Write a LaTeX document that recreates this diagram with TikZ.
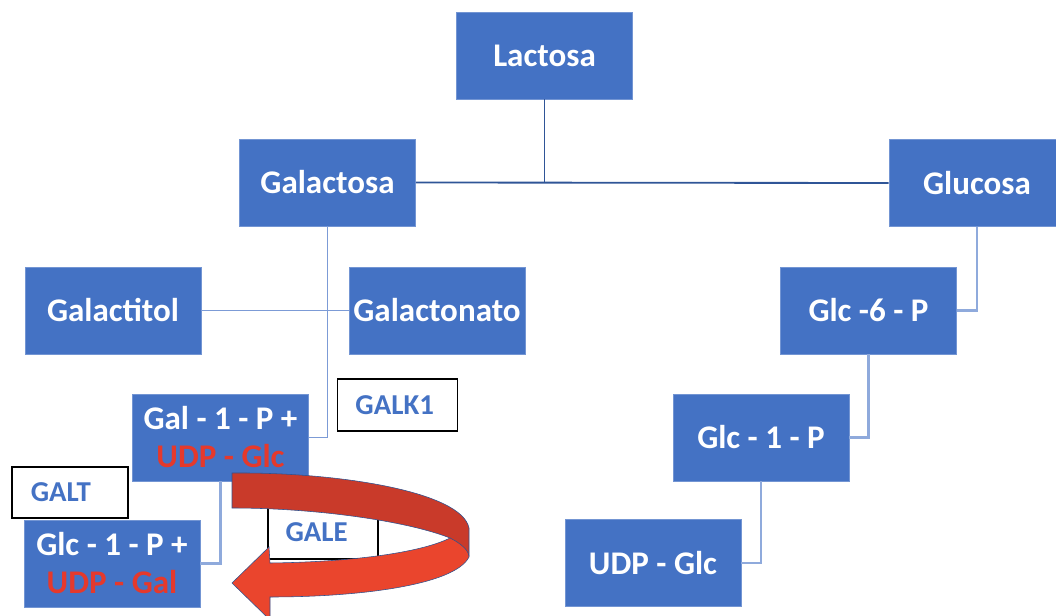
\documentclass[tikz,border=0pt]{standalone}
\usepackage{fontspec}
\setmainfont{Carlito}
\usetikzlibrary{positioning}
\definecolor{boxblue}{HTML}{4472C4}
\definecolor{darkline}{HTML}{2F5597}
\definecolor{midline}{HTML}{7C9BD6}
\definecolor{lightline}{HTML}{8FAADC}
\definecolor{udpred}{HTML}{E5392C}
\definecolor{arrowdark}{HTML}{C93A2A}
\definecolor{arrowlight}{HTML}{EA452D}
\definecolor{arrowedge}{HTML}{2F528F}

\begin{document}
\begin{tikzpicture}[x=0.025cm,y=-0.025cm,
  sugar/.style={fill=boxblue,draw=boxblue!75!white,line width=0.4pt,text=white,
    minimum width=4.4cm,minimum height=2.175cm,inner sep=0pt,align=center,
    font=\fontsize{23.5}{27}\selectfont\bfseries},
  enzyme/.style={fill=white,draw=black,line width=1pt,text=boxblue,
    inner sep=0pt,font=\fontsize{20.5}{22}\selectfont\bfseries},
  mainline/.style={darkline,line width=1.3pt},
  sideline/.style={midline,line width=1.3pt},
  thinline/.style={lightline,line width=1.6pt}]
\useasboundingbox (0,0) rectangle (1056,616);
\clip (0,0) rectangle (1056,616);
\node[sugar] (lac) at (544.5,55.5) {Lactosa};
\node[sugar] (galac) at (327.5,182.5) {Galactosa};
\node[sugar] (gluc) at (977,183) {Glucosa};
\node[sugar] (galtol) at (113,310.5) {Galactitol};
\node[sugar] (galnat) at (437,310.5) {Galactonato};
\node[sugar] (g6p) at (868.5,310.5) {Glc -6 - P};
\node[sugar] (g1p) at (761,437.5) {Glc - 1 - P};
\node[sugar] (udpglc) at (653,563) {UDP - Glc};
\node[sugar] (gal1p) at (220.5,437.5) {Gal - 1 - P +\\\textcolor{udpred}{UDP - Glc}};
\node[sugar] (glc1p) at (112,563.5) {Glc - 1 - P +\\\textcolor{udpred}{UDP - Gal}};
%
\node[enzyme,minimum width=3cm,minimum height=1.3cm] (galk) at (397.5,405) {GALK1\hspace*{4pt}};
\node[enzyme,minimum width=2.9cm,minimum height=1.275cm] (galt) at (70,492.5) {GALT\hspace*{13pt}};
\node[enzyme,minimum width=2.75cm,minimum height=1.35cm] (gale) at (323,532) {GALE\hspace*{9pt}};
%
\draw[mainline] (galac.east) -- (gluc.west);
\draw[mainline] (lac.south) -- (lac.south |- galac.east);
%
\draw[sideline] (galac.south) |- (gal1p.east);
\draw[sideline] (galtol.east) -- (galnat.west);
\draw[thinline] (gal1p.south) |- (glc1p.east);
%
\draw[thinline] (gluc.south) |- (g6p.east);
\draw[thinline] (g6p.south) |- (g1p.east);
\draw[thinline] (g1p.south) |- (udpglc.east);
%
\filldraw[fill=arrowdark,draw=arrowedge,line width=0.4pt]
  (232,473) .. controls (340,472) and (462,492) .. (469,528) -- (469,556)
  -- (450,538) .. controls (410,522) and (320,508) .. (232,508) -- cycle;
\filldraw[fill=arrowlight,draw=arrowedge,line width=0.4pt]
  (450,538) .. controls (460,543) and (469,550) .. (469,557)
  .. controls (455,585) and (360,597) .. (270,597) -- (270,620) -- (232,583)
  -- (269,547) -- (270,563) .. controls (350,562) and (420,553) .. (450,538) -- cycle;
\end{tikzpicture}
\end{document}
